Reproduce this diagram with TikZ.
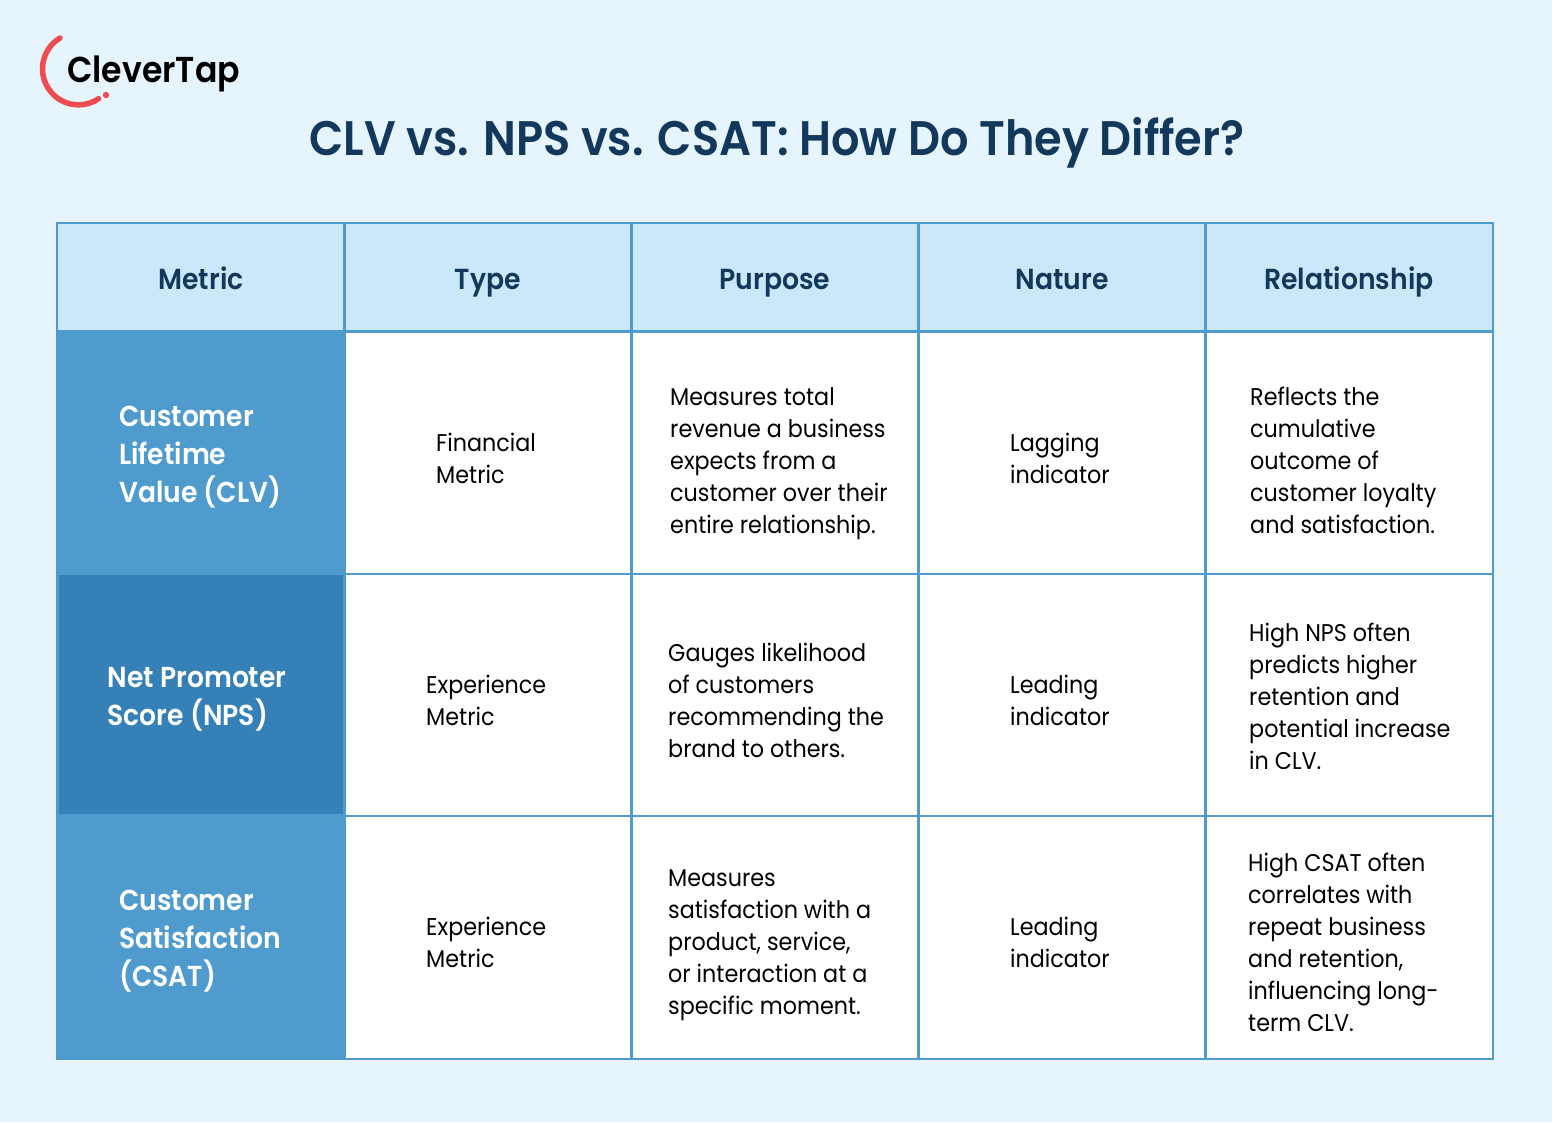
\documentclass[tikz,border=0pt]{standalone}
\usepackage{fontspec}
\setmainfont{Poppins}[FakeStretch=0.92]
\newfontfamily\headf{Poppins SemiBold}[FakeStretch=0.92]
\definecolor{bgc}{HTML}{E6F4FD}
\definecolor{linec}{HTML}{4F9BCE}
\definecolor{headc}{HTML}{CBE8FB}
\definecolor{metc}{HTML}{4F9BCE}
\definecolor{npsc}{HTML}{3680B8}
\definecolor{inkc}{HTML}{12395B}
\definecolor{redc}{HTML}{F04B4E}
\tikzset{
 x=1pt,y=-1pt,
 cellbox/.style={draw=linec,line width=2.4pt,fill=white,anchor=north west,inner sep=0pt,outer sep=0pt},
 headbox/.style={cellbox,fill=headc},
 metbox/.style={draw=metc,line width=2.4pt,fill=metc,anchor=north west,inner sep=0pt,outer sep=0pt},
 headtx/.style={font=\headf\fontsize{29}{32}\selectfont,text=inkc,anchor=base,inner sep=0pt},
 bodytx/.style={font=\fontsize{24.2}{32}\selectfont,text=black,align=left,anchor=west,inner sep=0pt},
 mettx/.style={font=\headf\fontsize{28.9}{38}\selectfont,text=white,align=left,anchor=west,inner sep=0pt},
 titletx/.style={font=\headf\fontsize{48.5}{52}\selectfont,text=inkc,anchor=base,inner sep=0pt},
}
\newcommand{\cellat}[6]{\node[#1,minimum width=#4pt,minimum height=#5pt] (#6) at (#2,#3) {};}
\begin{document}
\begin{tikzpicture}
\fill[bgc] (0,0) rectangle (1552,1122);
\useasboundingbox (0,0) rectangle (1552,1122);
% logo
\draw[redc,line width=5.5pt,line cap=round] (60,38) arc[start angle=121,end angle=304,radius=36pt];
\fill[redc] (106,95) circle[radius=3.2pt];
\node[font=\headf\fontsize{36}{40}\selectfont,text=black,anchor=base west,inner sep=0pt] (logo) at (67,82) {CleverTap};
\node[titletx] (title) at (777,155) {CLV vs. NPS vs. CSAT: How Do They Differ?};
% header
\cellat{headbox}{57}{223}{287.5}{108.5}{h1}
\cellat{headbox}{344.5}{223}{287}{108.5}{h2}
\cellat{headbox}{631.5}{223}{287}{108.5}{h3}
\cellat{headbox}{918.5}{223}{287}{108.5}{h4}
\cellat{headbox}{1205.5}{223}{287.5}{108.5}{h5}
\node[headtx] (t1) at (201,289) {Metric};
\node[headtx] (t2) at (488,289) {Type};
\node[headtx] (t3) at (775,289) {Purpose};
\node[headtx] (t4) at (1062,289) {Nature};
\node[headtx] (t5) at (1349,289) {Relationship};
% white cells
\foreach \cx/\cw/\cn in {344.5/287/a,631.5/287/b,918.5/287/c,1205.5/287.5/d}{
 \cellat{cellbox}{\cx}{331.5}{\cw}{242.5}{r1\cn}
 \cellat{cellbox}{\cx}{574}{\cw}{242}{r2\cn}
 \cellat{cellbox}{\cx}{816}{\cw}{243}{r3\cn}
}
% metric cells
\cellat{metbox}{57}{331.5}{287.5}{242.5}{m1}
\cellat{metbox}{57}{574}{287.5}{242}{m2}
\cellat{metbox}{57}{816}{287.5}{243}{m3}
\fill[npsc] (58.5,574.5) rectangle (343,814);
\node[mettx] (k1) at (119,457) {Customer\\Lifetime\\Value (CLV)};
\node[mettx] (k2) at (107.5,699) {Net Promoter\\Score (NPS)};
\node[mettx] (k3) at (119,941) {Customer\\Satisfaction\\(CSAT)};
% row 1
\node[bodytx] (c11) at (436,458) {Financial\\Metric};
\node[bodytx] (c12) at (670,463.5) {Measures total\\revenue a business\\expects from a\\customer over their\\entire relationship.};
\node[bodytx] (c13) at (1010,458) {Lagging\\indicator};
\node[bodytx] (c14) at (1250,460) {Reflects the\\cumulative\\outcome of\\customer loyalty\\and satisfaction.};
% row 2
\node[bodytx] (c21) at (426,700) {Experience\\Metric};
\node[bodytx] (c22) at (668,700) {Gauges likelihood\\of customers\\recommending the\\brand to others.};
\node[bodytx] (c23) at (1010,700) {Leading\\indicator};
\node[bodytx] (c24) at (1249,696) {High NPS often\\predicts higher\\retention and\\potential increase\\in CLV.};
% row 3
\node[bodytx] (c31) at (426,942) {Experience\\Metric};
\node[bodytx] (c32) at (668,945) {Measures\\satisfaction with a\\product, service,\\or interaction at a\\specific moment.};
\node[bodytx] (c33) at (1010,942) {Leading\\indicator};
\node[bodytx] (c34) at (1248,942) {High CSAT often\\correlates with\\repeat business\\and retention,\\influencing long-\\term CLV.};
\end{tikzpicture}
\end{document}
